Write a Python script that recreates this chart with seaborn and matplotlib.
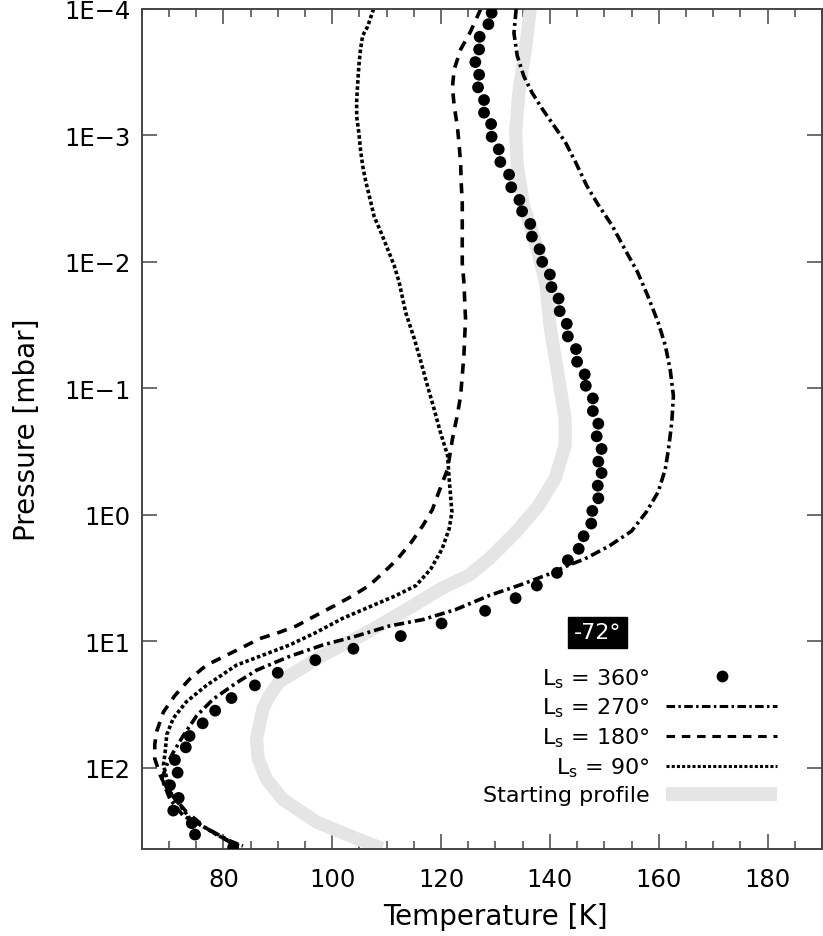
import numpy as np
import pandas as pd
import matplotlib
matplotlib.use("Agg")
import matplotlib.pyplot as plt
import seaborn as sns
from matplotlib.lines import Line2D
from matplotlib.ticker import FixedLocator, MultipleLocator, NullLocator

# ---------------- data ----------------
# Ls = 360 (dots)
LS360_LOGP = [-3.97, -3.88, -3.78, -3.68, -3.58, -3.48, -3.38, -3.28, -3.18, -3.09,
              -2.99, -2.89, -2.79, -2.69, -2.59, -2.49, -2.40, -2.30, -2.20, -2.10,
              -2.00, -1.90, -1.80, -1.71, -1.61, -1.51, -1.41, -1.31, -1.21, -1.11,
              -1.02, -0.92, -0.82, -0.72, -0.62, -0.52, -0.42, -0.33, -0.23, -0.13,
              -0.03, 0.07, 0.17, 0.27, 0.36, 0.46, 0.56, 0.66, 0.76, 0.86,
              0.96, 1.06, 1.15, 1.25, 1.35, 1.45, 1.55, 1.65, 1.75, 1.84,
              1.94, 2.04, 2.14, 2.24, 2.34, 2.44, 2.53, 2.63]
LS360_T = [129.3, 128.7, 127.1, 127.0, 126.3, 127.0, 126.8, 127.9, 127.9, 129.2,
           129.3, 130.6, 130.9, 132.5, 132.9, 134.4, 134.9, 136.4, 136.7, 138.1,
           138.6, 140.0, 140.3, 141.6, 141.8, 143.1, 143.3, 144.8, 145.0, 146.4,
           146.6, 147.9, 147.9, 148.9, 148.6, 149.5, 148.9, 149.5, 148.8, 148.9,
           147.8, 147.6, 146.2, 145.3, 143.3, 141.3, 137.6, 133.7, 128.1, 120.1,
           112.6, 103.9, 96.9, 90.0, 85.8, 81.5, 78.5, 76.2, 73.8, 73.1,
           71.1, 71.6, 70.2, 71.8, 70.8, 74.2, 74.8, 81.8]

# Ls = 270 (dash-dot)
LS270_LOGP = [-4.0, -3.81, -3.63, -3.47, -3.34, -3.21, -3.08, -2.95, -2.79, -2.60,
              -2.45, -2.29, -2.09, -1.92, -1.74, -1.52, -1.34, -1.15, -0.94, -0.73,
              -0.52, -0.36, -0.18, -0.02, 0.13, 0.25, 0.35, 0.40, 0.47, 0.55,
              0.64, 0.75, 0.83, 0.88, 0.96, 1.03, 1.12, 1.23, 1.33, 1.46,
              1.59, 1.75, 1.88, 1.98, 2.09, 2.25, 2.38, 2.48, 2.58, 2.62]
LS270_T = [133.8, 133.4, 134.0, 135.2, 136.7, 138.6, 140.7, 142.8, 144.7, 146.8,
           148.9, 151.4, 153.9, 156.1, 157.9, 159.9, 161.2, 162.1, 162.7, 162.4,
           161.8, 161.2, 159.9, 157.7, 155.0, 150.8, 146.4, 143.4, 139.8, 134.9,
           128.8, 122.7, 116.6, 110.5, 104.4, 98.3, 92.2, 86.1, 82.4, 78.1,
           75.1, 72.6, 70.8, 69.6, 68.7, 70.2, 72.6, 76.9, 81.2, 83.6]

# Ls = 180 (dashed)
LS180_LOGP = [-4.0, -3.82, -3.68, -3.52, -3.38, -3.24, -3.07, -2.94, -2.78, -2.63,
              -2.47, -2.31, -2.15, -1.99, -1.84, -1.55, -1.26, -0.94, -0.79, -0.60,
              -0.36, -0.18, -0.04, 0.09, 0.22, 0.35, 0.45, 0.56, 0.64, 0.72,
              0.79, 0.88, 0.93, 0.98, 1.06, 1.19, 1.30, 1.43, 1.56, 1.72,
              1.82, 1.93, 2.06, 2.17, 2.35, 2.48, 2.59]
LS180_T = [127.3, 125.4, 123.6, 122.4, 122.1, 122.4, 123.0, 123.3, 123.6, 123.7,
           123.9, 123.9, 123.9, 123.9, 124.2, 124.5, 124.2, 123.6, 123.0, 122.1,
           121.2, 119.6, 118.4, 116.6, 114.5, 112.0, 109.6, 106.8, 103.8, 100.4,
           97.3, 93.4, 90.3, 86.7, 83.0, 76.9, 73.8, 71.1, 69.0, 67.7,
           67.4, 67.4, 68.4, 69.6, 73.2, 76.9, 81.2]

# Ls = 90 (dotted)
LS90_LOGP = [-4.0, -3.86, -3.79, -3.68, -3.55, -3.42, -3.28, -3.15, -3.02, -2.89,
             -2.76, -2.63, -2.49, -2.36, -2.23, -2.10, -1.97, -1.84, -1.60, -1.39,
             -1.21, -1.02, -0.84, -0.65, -0.47, -0.28, -0.02, 0.11, 0.27, 0.43,
             0.56, 0.64, 0.73, 0.82, 0.93, 1.03, 1.11, 1.19, 1.35, 1.48,
             1.61, 1.74, 1.88, 1.98, 2.19, 2.40, 2.53, 2.62]
LS90_T = [107.6, 106.5, 105.6, 105.2, 104.9, 104.7, 104.5, 104.5, 104.9, 105.2,
          105.6, 106.2, 107.0, 107.7, 109.0, 110.2, 111.4, 112.3, 113.5, 115.1,
          116.3, 117.5, 118.7, 119.9, 121.2, 121.5, 122.0, 121.5, 120.2, 118.1,
          115.4, 111.7, 106.8, 101.9, 97.1, 92.2, 87.3, 82.4, 76.9, 73.2,
          70.8, 69.6, 69.3, 69.0, 70.2, 73.8, 78.7, 83.0]

# Starting profile (thick grey)
START_LOGP = [-4.0, -3.68, -3.34, -3.02, -2.76, -2.44, -2.16, -1.84, -1.47, -1.08,
              -0.76, -0.55, -0.29, -0.07, 0.14, 0.35, 0.48, 0.58, 0.77, 0.95,
              1.11, 1.24, 1.32, 1.43, 1.53, 1.77, 1.93, 2.09, 2.25, 2.43, 2.56, 2.64]
START_T = [136.4, 135.5, 134.3, 133.7, 134.0, 135.2, 137.3, 139.2, 140.1, 141.6,
           142.8, 142.8, 141.0, 137.9, 133.7, 128.8, 125.1, 120.2, 112.9, 105.6,
           98.3, 93.4, 90.3, 88.5, 87.3, 86.1, 86.4, 87.9, 90.9, 97.1, 104.4, 109.2]

LEGEND_LABELS = [r"L$_\mathregular{s}$ = 360°", r"L$_\mathregular{s}$ = 270°",
                 r"L$_\mathregular{s}$ = 180°", r"L$_\mathregular{s}$ = 90°",
                 "Starting profile"]
YTICK_VALUES = [1e-4, 1e-3, 1e-2, 1e-1, 1e0, 1e1, 1e2]
YTICK_LABELS = ["1E\u22124", "1E\u22123", "1E\u22122", "1E\u22121", "1E0", "1E1", "1E2"]
XTICK_VALUES = [80, 100, 120, 140, 160, 180]
LATITUDE_LABEL = "-72°"

# ---------------- style ----------------
sns.set_theme(style="ticks")
plt.rcParams["font.family"] = ["DejaVu Sans"]
plt.rcParams["mathtext.fontset"] = "dejavusans"
for key in ["text.color", "axes.labelcolor", "xtick.labelcolor", "ytick.labelcolor"]:
    plt.rcParams[key] = "black"

W, H = 823, 937
fig = plt.figure(figsize=(W / 100, H / 100), dpi=100)
ax = fig.add_axes([141.7 / W, 1 - 850 / H, (822 - 141.7) / W, 840 / H])
ax.set_yscale("log")

def frame(t, logp):
    return pd.DataFrame({"T": t, "P": 10 ** np.asarray(logp, dtype=float)})

LW = 2.6
DASHDOT = (0, (2.8, 1.1, 0.8, 1.1))
DASHED = (0, (2.8, 2.2))
DOTTED = (0, (1.0, 0.7))
GREY = "#e5e5e5"

sns.lineplot(data=frame(START_T, START_LOGP), x="T", y="P", sort=False, estimator=None,
             ax=ax, color=GREY, lw=9.5, solid_capstyle="butt", zorder=1)
sns.lineplot(data=frame(LS90_T, LS90_LOGP), x="T", y="P", sort=False, estimator=None,
             ax=ax, color="black", lw=LW, linestyle=DOTTED, zorder=2)
sns.lineplot(data=frame(LS180_T, LS180_LOGP), x="T", y="P", sort=False, estimator=None,
             ax=ax, color="black", lw=LW, linestyle=DASHED, zorder=2)
sns.lineplot(data=frame(LS270_T, LS270_LOGP), x="T", y="P", sort=False, estimator=None,
             ax=ax, color="black", lw=LW, linestyle=DASHDOT, zorder=3)
sns.scatterplot(data=frame(LS360_T, LS360_LOGP), x="T", y="P", ax=ax,
                color="black", s=72, edgecolor="none", zorder=4)

ax.set_xlim(65, 190)
ax.set_ylim(10 ** 2.644, 1e-4)

# ticks
ax.xaxis.set_major_locator(FixedLocator(XTICK_VALUES))
ax.xaxis.set_minor_locator(MultipleLocator(5))
ax.yaxis.set_major_locator(FixedLocator(YTICK_VALUES))
ax.yaxis.set_minor_locator(NullLocator())
ax.set_yticklabels(YTICK_LABELS)
ax.set_xticklabels([str(v) for v in XTICK_VALUES])
axis_col = "#454545"
ax.tick_params(which="both", direction="in", top=True, right=True, color=axis_col,
               width=1.1, labelsize=17.5, labelcolor="black")
ax.tick_params(which="major", length=11)
ax.tick_params(which="minor", length=5.5)
ax.tick_params(axis="x", which="major", pad=13)
ax.tick_params(axis="y", which="major", pad=8)
for s in ax.spines.values():
    s.set_visible(True)
    s.set_color(axis_col)
    s.set_linewidth(1.4)

ax.set_xlabel("Temperature [K]", fontsize=20, color="black")
ax.set_ylabel("Pressure [mbar]", fontsize=20, color="black")
ax.xaxis.set_label_coords(0.52, -0.08)
ax.xaxis.label.set_verticalalignment("center")
ax.yaxis.set_label_coords(-0.168, 0.5)
ax.yaxis.label.set_verticalalignment("center")

# latitude box
ax.text(0.670, 0.258, LATITUDE_LABEL, transform=ax.transAxes, ha="center", va="center",
        color="white", fontsize=16,
        bbox=dict(boxstyle="square,pad=0.25", fc="black", ec="black"))

# legend
handles = [
    Line2D([], [], ls="none", marker="o", color="black", markersize=8.5, markeredgewidth=0),
    Line2D([], [], color="black", lw=2.2, linestyle=DASHDOT),
    Line2D([], [], color="black", lw=2.2, linestyle=DASHED),
    Line2D([], [], color="black", lw=2.2, linestyle=DOTTED),
    Line2D([], [], color=GREY, lw=10, solid_capstyle="butt"),
]
leg = ax.legend(handles, LEGEND_LABELS, loc="lower right", bbox_to_anchor=(0.934, 0.052),
                frameon=False, markerfirst=False, handlelength=5.0, handletextpad=0.75,
                labelspacing=0.28, borderpad=0, borderaxespad=0, fontsize=16)
for t in leg.get_texts():
    t.set_color("black")

fig.savefig("out.png", dpi=100)
